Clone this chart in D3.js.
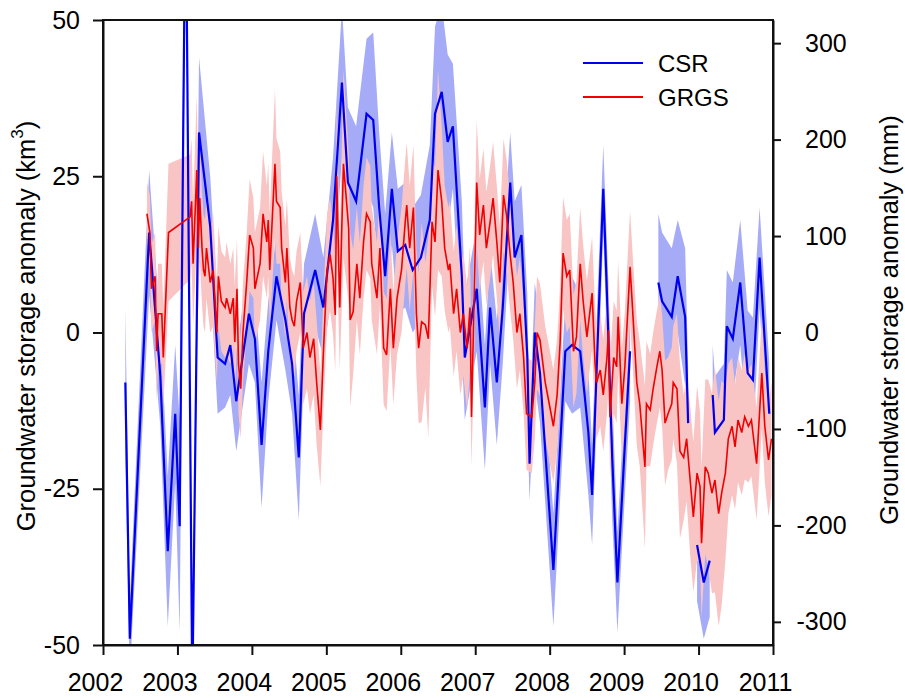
<!DOCTYPE html>
<html>
<head>
<meta charset="utf-8">
<script src="https://cdn.jsdelivr.net/npm/d3@7"></script>
<style>
  body { margin: 0; background: #fff; }
  svg { display: block; font-family: "Liberation Sans", Arial, sans-serif; }
</style>
</head>
<body>
<svg width="905" height="698"></svg>
<script>
// CSR monthly solution (km3), null marks missing months
const csrYear = [2002.30, 2002.36, 2002.62, 2002.77, 2002.87, 2002.97, 2003.03, 2003.11, 2003.20, 2003.29,
  2003.44, 2003.54, 2003.64, 2003.71, 2003.79, 2003.96, 2004.04, 2004.13, 2004.22, 2004.33,
  2004.45, 2004.54, 2004.63, 2004.70, 2004.85, 2004.96, 2005.09, 2005.21, 2005.29, 2005.40,
  2005.54, 2005.63, 2005.71, 2005.79, 2005.88, 2005.96, 2006.06, 2006.16, 2006.27, 2006.39,
  2006.46, 2006.55, 2006.63, 2006.70, 2006.82, 2006.86, 2007.02, 2007.13, 2007.20, 2007.29,
  2007.37, 2007.47, 2007.53, 2007.62, 2007.70, 2007.73, 2007.80, 2007.87, 2008.05, 2008.21,
  2008.30, 2008.41, 2008.52, 2008.57, 2008.64, 2008.72, 2008.77, 2008.84, 2008.91, 2009.01,
  2009.08, 2009.27, 2009.46, 2009.51, 2009.64, 2009.72, 2009.82, 2009.86, 2009.92, 2009.98,
  2010.07, 2010.15, 2010.17, 2010.19, 2010.22, 2010.34, 2010.38, 2010.46, 2010.56, 2010.66,
  2010.73, 2010.82, 2010.95];
const csrValue = [-8, -49, 16, -7, -35, -13, -31, 75, -58, 32,
  17, -4, -5, -2, -11, 3, -1, -18, -3, 9,
  2, -5, -20, 3, 10, 4, 18, 40, 24, 21,
  35, 34, 20, 9, 23, 13, 14, 10, 12, 18,
  35, 38.5, 30.5, 33, 9, -4, 7, -12, 4, -8,
  4, 24, 12, 15.6, -4, -21, 0, -6.5, -38, -3,
  -2, -3, -16, -26, -3, 23, 6, -20, -40, -18,
  -3, null, 8, 5, 2.5, 9, 2.5, -14.5, null, -34,
  -40, -36.5, null, -10, -16, -14, 1, -1, 8, -6.5,
  -7.6, 12, -13];
const csrError = [12, 6, 10, 8, 12, 11, 17, 10, 5, 12,
  8, 9, 7, 8, 8, 8, 7, 10, 8, 7,
  8, 8, 10, 8, 9, 8, 10, 12, 12, 12,
  12, 14, 12, 10, 9, 10, 10, 10, 10, 12,
  14, 14, 14, 10, 12, 10, 10, 10, 9, 10,
  9, 8, 9, 8, 10, 6, 8, 8, 9, 8,
  11, 9, 10, 8, 8, 7, 8, 10, 8, 8,
  8, null, 11, 11, 11, 9, 11, 9, null, 9,
  9, 9, null, 8, 9, 9, 9, 9, 10, 10,
  10, 8, 8];

// GRGS 10-day solution (km3)
const grgsYear = [2002.59, 2002.63, 2002.65, 2002.70, 2002.72, 2002.74, 2002.79, 2002.81, 2002.88, 2003.17,
  2003.19, 2003.21, 2003.26, 2003.28, 2003.30, 2003.33, 2003.35, 2003.37, 2003.39, 2003.44,
  2003.48, 2003.53, 2003.55, 2003.59, 2003.64, 2003.66, 2003.71, 2003.75, 2003.77, 2003.80,
  2003.82, 2003.85, 2003.88, 2003.93, 2003.97, 2004.02, 2004.04, 2004.11, 2004.15, 2004.20,
  2004.22, 2004.24, 2004.31, 2004.33, 2004.38, 2004.40, 2004.45, 2004.47, 2004.51, 2004.54,
  2004.57, 2004.60, 2004.65, 2004.69, 2004.74, 2004.78, 2004.83, 2004.87, 2004.92, 2004.96,
  2005.01, 2005.05, 2005.09, 2005.12, 2005.14, 2005.18, 2005.23, 2005.30, 2005.32, 2005.36,
  2005.41, 2005.45, 2005.50, 2005.54, 2005.59, 2005.61, 2005.68, 2005.72, 2005.77, 2005.81,
  2005.86, 2005.90, 2005.95, 2006.01, 2006.06, 2006.08, 2006.12, 2006.17, 2006.21, 2006.24,
  2006.28, 2006.33, 2006.37, 2006.42, 2006.46, 2006.50, 2006.55, 2006.59, 2006.64, 2006.66,
  2006.71, 2006.75, 2006.80, 2006.84, 2006.89, 2006.93, 2006.95, 2007.02, 2007.06, 2007.11,
  2007.15, 2007.20, 2007.24, 2007.29, 2007.33, 2007.38, 2007.42, 2007.47, 2007.51, 2007.56,
  2007.60, 2007.65, 2007.69, 2007.76, 2007.80, 2007.83, 2007.87, 2007.94, 2008.01, 2008.05,
  2008.10, 2008.14, 2008.18, 2008.23, 2008.27, 2008.32, 2008.36, 2008.41, 2008.45, 2008.50,
  2008.57, 2008.61, 2008.63, 2008.68, 2008.72, 2008.77, 2008.79, 2008.81, 2008.86, 2008.90,
  2008.92, 2008.97, 2009.01, 2009.08, 2009.12, 2009.17, 2009.21, 2009.28, 2009.30, 2009.35,
  2009.39, 2009.44, 2009.48, 2009.51, 2009.55, 2009.59, 2009.64, 2009.66, 2009.71, 2009.75,
  2009.80, 2009.84, 2009.89, 2009.93, 2009.98, 2010.02, 2010.04, 2010.09, 2010.13, 2010.18,
  2010.22, 2010.27, 2010.31, 2010.36, 2010.40, 2010.45, 2010.49, 2010.53, 2010.58, 2010.62,
  2010.67, 2010.71, 2010.78, 2010.85, 2010.89, 2010.94, 2010.98];
const grgsValue = [19, 16, 7, 9, -3, 3, 3, -4, 16, 18.5,
  21, 11, 26, 13.5, 21.5, 13.5, 10, 9, 13.5, 8,
  10, 0, 9, 5, 4, 5.5, 3, 5.5, -1.5, 7,
  -5, -9, 0, 8, 15.6, 13.5, 7, 11, 19, 14.5,
  18, 10, 27, 21, 20, 13.5, 8, 13.5, 4, 2,
  1, 5, 8, -2.5, 0, -4, -1, -8, -15.6, -3.3,
  10, 12.5, 8.7, 2.8, 25, 4, 27, 16.7, 2, 3.3,
  11, 5.5, 14.5, 19, 17.7, 11, 5.5, 13.5, -2.5, -3.6,
  7, -2.5, 5.5, 10, 17.7, 20.4, 13.5, 20, 3, -2.5,
  1.7, 1.2, -1, 17.7, 14.5, 26, 21, 13.5, 10, 11,
  3, 7, 0, 3, -2.5, 4, -13.5, 24, 15.6, 20.4,
  13.5, 17.7, 21.5, 14.5, 8, 22, 18.8, 12.4, 8, 0,
  3, -4, -13, -13.5, -8, 0, -1.2, -8, -12.4, -15,
  -10, -1.7, 12.7, 9, 10, -3, -0.7, 11, 5, -0.7,
  6.3, -5, -8, -6, -10, -4, 0.4, -13.5, -4, -5.5,
  2.5, -11.4, -5.5, 10.5, 2.5, -8, -11.4, -21.5, -11.4, -12.4,
  -9, -5.5, -3, -6, -14.5, -13, -11.4, -8, -9, -19,
  -20, -17, -24, -29.5, -22.5, -24.7, -33.7, -21.5, -22.5, -25.7,
  -23.6, -29, -25.7, -22.5, -17, -15, -18.3, -14, -16, -13.5,
  -15, -14, -21, -6.5, -15, -20.4, -17];
const grgsError = [5, 6, 7, 7, 8, 8, 8, 8, 11, 10,
  10, 10, 12, 10, 10, 9, 9, 9, 8, 8,
  9, 8, 8, 8, 8, 9, 8, 8, 9, 8,
  8, 8, 8, 8, 9, 8, 9, 9, 10, 9,
  9, 9, 12, 10, 9, 9, 9, 8, 8, 8,
  8, 8, 8, 9, 9, 9, 9, 10, 9, 9,
  9, 9, 9, 9, 12, 10, 15, 12, 14, 10,
  9, 9, 9, 9, 9, 9, 9, 9, 9, 9,
  9, 9, 9, 10, 10, 10, 10, 10, 10, 12,
  16, 10, 16, 10, 12, 16, 12, 10, 10, 10,
  10, 10, 10, 10, 10, 10, 8, 10, 9, 9,
  9, 9, 9, 9, 9, 9, 9, 9, 9, 9,
  9, 9, 9, 9, 9, 9, 9, 9, 9, 9,
  9, 9, 9, 9, 9, 9, 9, 9, 9, 9,
  9, 9, 9, 9, 9, 9, 9, 9, 9, 9,
  9, 9, 9, 9, 9, 10, 10, 13, 10, 9,
  9, 9, 9, 9, 10, 9, 9, 9, 12, 14,
  10, 10, 12, 12, 14, 12, 12, 14, 15, 16,
  18, 18, 18, 14, 12, 11, 10, 10, 10, 10,
  9, 9, 9, 9, 9, 9, 9];

const yearTicks = [2002, 2003, 2004, 2005, 2006, 2007, 2008, 2009, 2010, 2011];
const kmTicks = [-50, -25, 0, 25, 50];
const mmTicks = [-300, -200, -100, 0, 100, 200, 300];
const seriesNames = ["CSR", "GRGS"];
const seriesColors = ["#0000f0", "#f00000"];
const bandColors = ["#a6abf7", "#f9c4c4"];

const svg = d3.select("svg");
const plotL = 103, plotR = 773, plotT = 20, plotB = 645;
const font = "'Liberation Sans', Arial, sans-serif";

const x = d3.scaleLinear().domain([2002, 2011]).range([plotL, plotR]);
const y = d3.scaleLinear().domain([-50, 50]).range([plotB, plotT]);
const yR = d3.scaleLinear().domain([-324, 324]).range([plotB, plotT]);

const csr = csrYear.map((t, i) => ({ t: t, v: csrValue[i], e: csrError[i] }));
const grgs = grgsYear.map((t, i) => ({ t: t, v: grgsValue[i], e: grgsError[i] }));

svg.append("clipPath").attr("id", "plot")
  .append("rect")
  .attr("x", plotL).attr("y", plotT)
  .attr("width", plotR - plotL).attr("height", plotB - plotT);

const plot = svg.append("g").attr("clip-path", "url(#plot)");

const band = d3.area()
  .defined((d) => d.v != null)
  .x((d) => x(d.t))
  .y0((d) => y(d.v - d.e))
  .y1((d) => y(d.v + d.e));

const line = d3.line()
  .defined((d) => d.v != null)
  .x((d) => x(d.t))
  .y((d) => y(d.v));

plot.append("path").datum(csr).attr("d", band).attr("fill", bandColors[0]);
plot.append("path").datum(grgs).attr("d", band).attr("fill", bandColors[1]);
plot.append("path").datum(csr).attr("d", line)
  .attr("fill", "none").attr("stroke", seriesColors[0]).attr("stroke-width", 2.2);
plot.append("path").datum(grgs).attr("d", line)
  .attr("fill", "none").attr("stroke", seriesColors[1]).attr("stroke-width", 1.6);

// frame
svg.append("rect")
  .attr("x", plotL).attr("y", plotT)
  .attr("width", plotR - plotL).attr("height", plotB - plotT)
  .attr("fill", "none").attr("stroke", "#111").attr("stroke-width", 2);

// axes
const xAxis = svg.append("g")
  .attr("transform", `translate(0,${plotB})`)
  .call(d3.axisBottom(x).tickValues(yearTicks).tickFormat(d3.format("d")).tickSize(10).tickSizeOuter(0));
xAxis.selectAll("text").attr("x", -8).attr("y", 46).attr("dy", 0);

const yAxis = svg.append("g")
  .attr("transform", `translate(${plotL},0)`)
  .call(d3.axisLeft(y).tickValues(kmTicks).tickSize(10).tickPadding(13).tickSizeOuter(0));

const yAxisR = svg.append("g")
  .attr("transform", `translate(${plotR},0)`)
  .call(d3.axisRight(yR).tickValues(mmTicks).tickSize(8).tickFormat((d) => d < 0 ? "-" + Math.abs(d) : d).tickSizeOuter(0));
yAxisR.selectAll("text").attr("x", (d) => d < 0 ? 23.5 : 32);

[xAxis, yAxis, yAxisR].forEach((g) => {
  g.select(".domain").attr("stroke", "#111").attr("stroke-width", 2);
  g.selectAll(".tick line").attr("stroke", "#111").attr("stroke-width", 2);
  g.selectAll("text").attr("font-size", 25).attr("font-family", font).attr("fill", "#000");
});
yAxis.selectAll("text").text((d) => d < 0 ? "-" + Math.abs(d) : d);

// axis titles
const tl = svg.append("text")
  .attr("transform", "translate(35,326) rotate(-90)")
  .attr("text-anchor", "middle")
  .attr("font-size", 25.5).attr("font-family", font);
tl.append("tspan").text("Groundwater storage anomaly (km");
tl.append("tspan").attr("font-size", 17).attr("dy", -12).text("3");
tl.append("tspan").attr("dy", 12).text(")");

svg.append("text")
  .attr("transform", "translate(898,320) rotate(-90)")
  .attr("text-anchor", "middle")
  .attr("font-size", 25.5).attr("font-family", font)
  .text("Groundwater storage anomaly (mm)");

// legend
const legend = svg.append("g");
seriesNames.forEach((name, i) => {
  const ly = 63 + i * 34;
  legend.append("line")
    .attr("x1", 583).attr("x2", 643).attr("y1", ly).attr("y2", ly)
    .attr("stroke", seriesColors[i]).attr("stroke-width", 2);
  legend.append("text")
    .attr("x", 658).attr("y", ly + 9)
    .attr("font-size", 24).attr("font-family", font)
    .text(name);
});
</script>
</body>
</html>
